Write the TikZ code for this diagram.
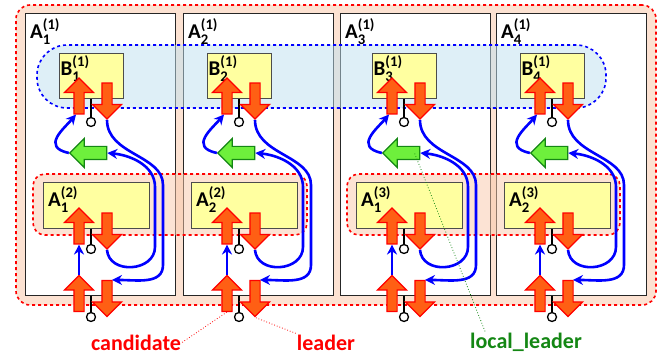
\documentclass[tikz,border=0pt]{standalone}
\usepackage{amsmath}
\usepackage{fontspec}
\setmainfont{Carlito}
\usetikzlibrary{arrows.meta, shapes.arrows}

\definecolor{peach}{RGB}{252,226,210}
\definecolor{peachtint}{RGB}{250,200,170}
\definecolor{bandblue}{RGB}{190,225,240}
\definecolor{boxyellow}{RGB}{255,255,160}
\definecolor{portorange}{RGB}{255,95,20}
\definecolor{lgreen}{RGB}{110,240,60}
\definecolor{dgreen}{RGB}{20,135,20}

\begin{document}
\begin{tikzpicture}[x=1pt, y=1pt, font=\fontsize{21}{24}\selectfont\bfseries,
    outerbox/.style={draw=red, fill=peach, line width=1.6pt, dashed, rounded corners=14pt, minimum width=640pt, minimum height=300pt},
    colbox/.style={draw=black!85, fill=white, line width=1pt, minimum width=150pt, minimum height=281pt},
    band/.style={draw=blue, fill=bandblue, fill opacity=0.5, draw opacity=1, line width=1.6pt, dashed, rounded corners=30pt, minimum width=569pt, minimum height=63pt},
    group/.style={draw=red, fill=peachtint, fill opacity=0.5, line width=1.6pt, dashed, rounded corners=12pt, minimum height=61pt},
    procbox/.style={draw=black!70, fill=boxyellow, line width=1pt, minimum height=45pt},
    uparr/.style={single arrow, draw=red, fill=portorange, line width=1.2pt, inner sep=0pt, inner xsep=4.5pt, single arrow head extend=9.5pt, minimum height=36pt, shape border rotate=90},
    dnarr/.style={uparr, shape border rotate=270},
    garr/.style={single arrow, draw=dgreen, fill=lgreen, line width=1.2pt, inner sep=0pt, inner ysep=6pt, single arrow head extend=8pt, minimum height=37pt, shape border rotate=180},
    pinend/.style={circle, draw=black, fill=white, line width=1.3pt, inner sep=0pt, minimum size=9pt},
    flow/.style={draw=blue, line width=2.6pt, -{Stealth[length=10pt, width=10pt]}},
    note/.style={font=\fontsize{22}{24}\selectfont\bfseries, inner sep=1pt}]
    \useasboundingbox (0,0) rectangle (661,-358);

    \node[outerbox] (sys) at (336,-155) {};

    % columns A_i^(1)
    \foreach \i/\cx in {1/100, 2/258, 3/415, 4/571} {
        \node[colbox] (col\i) at (\cx,-154.5) {};
        \node[anchor=base west, inner sep=0pt] (cl\i) at ({\cx-70},-39) {A$^{\text{(1)}}_{\text{\i}}$};
    }

    \node[band] (bband) at (321.5,-76.5) {};
    \node[group, minimum width=274pt] (grp1) at (170,-204.5) {};
    \node[group, minimum width=273pt] (grp2) at (483.5,-204.5) {};

    \foreach \i/\s/\asub/\asup in {1/91/1/2, 2/239/2/2, 3/404/1/3, 4/552/2/3} {
        % boxes
        \node[procbox, minimum width=64pt] (b\i) at (\s,-76.5) {};
        \node[anchor=base west, inner sep=0pt] (bl\i) at ([xshift=2pt, yshift=-22pt]b\i.north west) {B$^{\text{(1)}}_{\text{\i}}$};
        \node[procbox, minimum width=106pt] (a\i) at ({\s+5.5},-205.5) {};
        \node[anchor=base west, inner sep=0pt] (al\i) at ([xshift=5pt, yshift=-24pt]a\i.north west) {A$^{\text{(\asup)}}_{\text{\asub}}$};

        % ports
        \node[pinend] (bc\i) at (\s,-122) {};
        \draw[line width=1.3pt] (b\i.south) -- (bc\i);
        \node[uparr] (bu\i) at ({\s-12},-98.5) {};
        \node[dnarr] (bd\i) at ({\s+16},-98.5) {};

        \node[pinend] (ac\i) at (\s,-249) {};
        \draw[line width=1.3pt] (ac\i |- a\i.south) -- (ac\i);
        \node[uparr] (au\i) at ({\s-12},-228.5) {};
        \node[dnarr] (ad\i) at ({\s+16},-228.5) {};

        \node[pinend] (pc\i) at (\s,-317) {};
        \draw[line width=1.3pt] (pc\i |- col\i.south) -- (pc\i);
        \node[uparr] (pu\i) at ({\s-12},-296) {};
        \node[dnarr] (pd\i) at ({\s+16},-296) {};

        \node[garr] (g\i) at ({\s+0.5},-153) {};

        % flows
        \draw[flow] (g\i.tip) .. controls +(-28,6) and +(-12,-14) .. ([xshift=-3pt]bu\i.tail);
        \draw[flow] (pu\i.tip) -- (au\i.tail);
        \draw[flow] (ad\i.tip) .. controls +(2,-25) and +(0,-25) .. ++(48,3) -- ++(0,60) .. controls +(0,22) and +(22,-2) .. (g\i.tail);
        \draw[flow] (bd\i.tip) .. controls +(0,-35) and +(0,30) .. ++(56,-65) -- ++(0,-80) .. controls +(0,-20) and +(25,0) .. ([xshift=5pt]pd\i.tail);
    }

    \node[note, red, anchor=base] (cand) at (136,-350) {candidate};
    \node[note, red, anchor=base] (lead) at (326,-350) {leader};
    \node[note, dgreen, anchor=base] (loc) at (526,-348) {local\_leader};

    \draw[red, dotted, line width=0.8pt] (cand.east) -- (pu2.tail);
    \draw[red, dotted, line width=0.8pt] (lead.north west) -- (pd2.tip);
    \draw[dgreen, dotted, line width=0.8pt] ([xshift=16pt]loc.north west) -- ([xshift=10pt]g3.center);
\end{tikzpicture}
\end{document}
